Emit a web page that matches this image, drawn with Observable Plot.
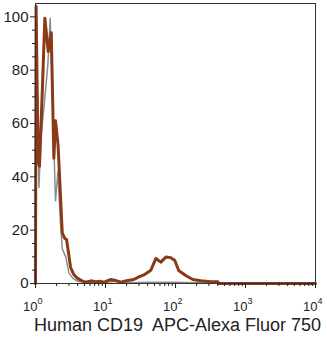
<!DOCTYPE html>
<html><head><meta charset="utf-8">
<script src="https://cdn.jsdelivr.net/npm/d3@7"></script>
<script src="https://cdn.jsdelivr.net/npm/@observablehq/plot@0.6"></script>
<style>body{margin:0;background:#fff}</style>
</head><body><div id="chart"></div>
<script>
// Stained sample (brown)
const brownX = [1.0, 1.02, 1.09, 1.14, 1.25, 1.36, 1.52, 1.68, 1.83, 1.93, 2.1, 2.41, 2.6, 2.78, 3.17, 3.5, 3.96, 4.6, 5.2, 6.2, 7.2, 8.5, 9.7, 11, 11.9, 13.5, 16.5, 20, 25.4, 30, 35.3, 44.5, 52.5, 61.8, 72.7, 85.6, 97.8, 111, 140, 177, 230, 318, 404, 417, 10000];
const brownY = [0, 104, 46, 44, 72, 99.5, 87, 94, 47, 61, 52, 19, 17, 16.5, 6, 3.5, 2, 1, 0.5, 1, 0.7, 0.8, 0.5, 1.2, 1.5, 1.2, 0.5, 1, 1.5, 2.5, 3.2, 5, 9.4, 8, 9.9, 9.7, 8.6, 4.9, 3, 1.5, 1, 0.7, 0.7, 0, 0];
// Isotype control (gray)
const grayX = [1.0, 1.02, 1.12, 1.2, 1.33, 1.5, 1.62, 1.93, 2.09, 2.25, 2.41, 2.7, 3.0, 3.4, 4.0, 5, 7, 10, 15, 25, 40, 60, 100, 200, 400, 1000, 10000];
const grayY = [0, 100, 36, 55, 67, 82, 99.5, 31, 42, 25, 13, 10, 4, 2, 0.8, 0.5, 0.3, 0.5, 0.8, 0.3, 0.5, 0.5, 0.5, 0.3, 0.2, 0, 0];

const xMajor = [1, 10, 100, 1000, 10000];
const xExponents = ["0", "1", "2", "3", "4"];
const xMinor = [2,3,4,5,6,7,8,9,20,30,40,50,60,70,80,90,200,300,400,500,600,700,800,900,2000,3000,4000,5000,6000,7000,8000,9000];
const yMajor = [0, 20, 40, 60, 80, 100];
const yMinor = [5,10,15,25,30,35,45,50,55,65,70,75,85,90,95];
const xLabel = "Human CD19  APC-Alexa Fluor 750";

const brown = brownX.map((x, i) => ({x, y: brownY[i]}));
const gray = grayX.map((x, i) => ({x, y: grayY[i]}));
const majors = xMajor.map((x, i) => ({x, e: xExponents[i]}));

const chart = Plot.plot({
  width: 327, height: 341,
  marginLeft: 35, marginRight: 12, marginTop: 3, marginBottom: 58,
  style: {fontFamily: "'Liberation Sans', Arial, sans-serif", background: "#fff", color: "#222"},
  x: {type: "log", domain: [1, 10000]},
  y: {domain: [0, 105]},
  marks: [
    Plot.line(gray, {x: "x", y: "y", stroke: "#8c8c8c", strokeWidth: 1.5}),
    Plot.line(brown, {x: "x", y: "y", stroke: "#8a3a16", strokeWidth: 3}),
    Plot.frame({stroke: "#333"}),
    Plot.axisX({ticks: xMajor, tickFormat: () => "", tickSize: 5, label: null}),
    Plot.axisX({ticks: xMinor, tickFormat: () => "", tickSize: 3, label: null}),
    Plot.text(majors, {x: "x", text: () => "10", frameAnchor: "bottom", lineAnchor: "bottom", dy: 27, dx: 2, textAnchor: "end", fontSize: 13, fill: "#222"}),
    Plot.text(majors, {x: "x", text: "e", frameAnchor: "bottom", lineAnchor: "bottom", dy: 20, dx: 2, textAnchor: "start", fontSize: 9, fill: "#222"}),
    Plot.axisY({ticks: yMajor, tickSize: 5, tickPadding: 2, fontSize: 15, label: null}),
    Plot.axisY({ticks: yMinor, tickFormat: () => "", tickSize: 3, label: null}),
    Plot.text([xLabel], {frameAnchor: "bottom", dy: 47, dx: 2, fontSize: 18, fill: "#222"})
  ]
});
document.getElementById("chart").append(chart);
</script>
</body></html>
